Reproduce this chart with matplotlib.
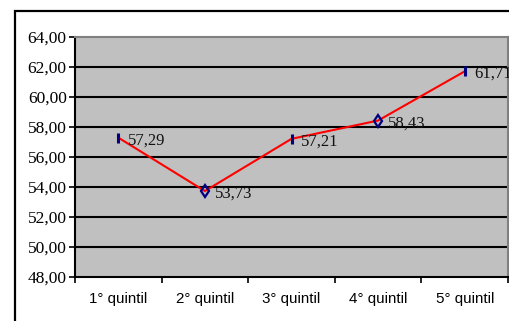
import numpy as np
import matplotlib
matplotlib.use("Agg")
import matplotlib.pyplot as plt
from matplotlib.patches import Rectangle

#========= Data ===========
categories = ['1° quintil', '2° quintil', '3° quintil', '4° quintil', '5° quintil']
values = [57.29, 53.73, 57.21, 58.43, 61.71]
markers = ['|', 'd', '|', 'd', '|']

def comma(v):
    return ('%.2f' % v).replace('.', ',')

W, H = 510, 321
fig = plt.figure(figsize=(W/100, H/100), dpi=100)
ax = fig.add_axes([75/W, 1-277/H, (508-75)/W, (277-37)/H])

ax.set_facecolor('#c0c0c0')
x = np.arange(len(categories))
ax.plot(x, values, color='red', lw=1.5, zorder=3)
for xi, v, m in zip(x, values, markers):
    if m == '|':
        ax.plot(xi, v, marker='|', ms=7, mew=2.2, color='#000080', zorder=4)
    else:
        ax.plot(xi, v, marker='d', ms=6, mew=1.6, mec='#000080', mfc='none', zorder=4)
    ax.annotate(comma(v), (xi, v), xytext=(7, -2), textcoords='offset points',
                fontsize=12, family='Liberation Serif', va='center', ha='left', color='#111111')

ax.set_xlim(-0.5, len(categories) - 0.5)
ax.set_ylim(48, 64)
yt = np.arange(48, 65, 2)
ax.set_yticks(yt)
ax.set_yticklabels([comma(t) for t in yt], family='Liberation Serif', fontsize=12.5)
for t in yt[1:-1]:
    ax.axhline(t, color='black', lw=1.5, zorder=1)

ax.set_xticks(x)
ax.set_xticklabels(categories, family='Liberation Sans', fontsize=10.9)
ax.set_xticks(np.arange(-0.5, len(categories)), minor=True)
ax.tick_params(axis='x', which='major', length=0, pad=11)
ax.tick_params(axis='x', which='minor', length=4, width=1.2, direction='out')
ax.tick_params(axis='y', length=4, width=1.2, direction='out', pad=2)

ax.spines['left'].set_linewidth(1.5)
ax.spines['bottom'].set_linewidth(1.5)
ax.spines['top'].set_color('#808080')
ax.spines['top'].set_linewidth(1.5)
ax.spines['right'].set_color('#808080')
ax.spines['right'].set_linewidth(1.5)

# outer chart border
fig.patches.append(Rectangle((15/W, -0.1), 1.2, 1 - 11/H + 0.1, transform=fig.transFigure,
                             fill=False, ec='black', lw=1.6))

fig.savefig('out.png', dpi=100)
